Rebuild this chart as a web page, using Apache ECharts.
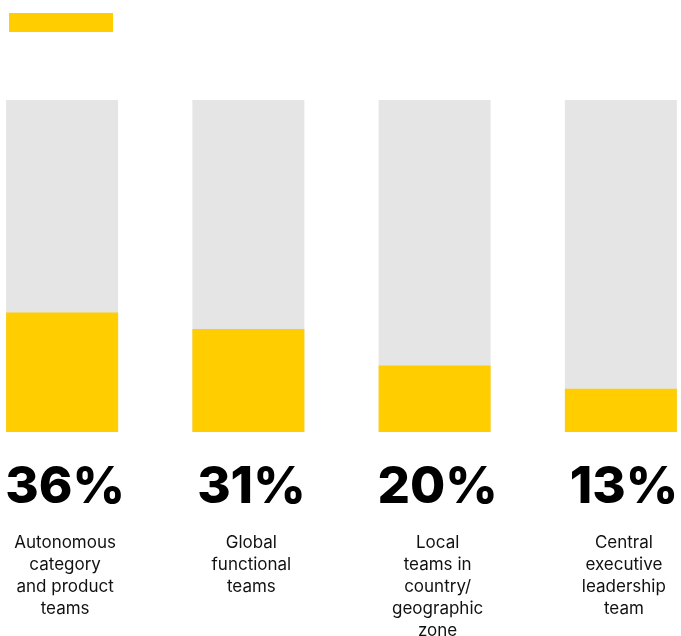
<!DOCTYPE html>
<html>
<head>
<meta charset="utf-8">
<style>
  html, body { margin: 0; padding: 0; background: #ffffff; }
  #chart { width: 681px; height: 636px; }
</style>
<script src="https://cdn.jsdelivr.net/npm/echarts@6/dist/echarts.min.js"></script>
</head>
<body>
<div id="chart"></div>
<script>
// Where decisions are made: share of respondents per team type
const categories = [
  'Autonomous\ncategory\nand product\nteams',
  'Global\nfunctional\nteams',
  'Local\nteams in\ncountry/\ngeographic\nzone',
  'Central\nexecutive\nleadership\nteam'
];
const shares = [36, 31, 20, 13];
const seriesName = 'Share of respondents';

const YELLOW = '#ffcd00';
const GREY = '#e5e5e6';

const chart = echarts.init(document.getElementById('chart'), null, { renderer: 'canvas' });

chart.setOption({
  animation: false,
  backgroundColor: '#ffffff',
  legend: {
    show: true,
    left: 9,
    top: 13,
    padding: 0,
    itemGap: 0,
    itemWidth: 104,
    itemHeight: 19,
    icon: 'rect',
    selectedMode: false,
    formatter: () => '',
    data: [seriesName]
  },
  grid: {
    left: -31,
    right: -33,
    top: 100,
    bottom: 204,
    containLabel: false,
    outerBoundsMode: 'none'
  },
  xAxis: {
    type: 'category',
    data: categories,
    axisLine: { show: false },
    axisTick: { show: false },
    axisLabel: {
      interval: 0,
      margin: 100,
      color: '#111111',
      fontFamily: 'Inter',
      fontSize: 17,
      lineHeight: 22,
      letterSpacing: -0.3,
      align: 'center',
      padding: [0, 0, 0, 6]
    }
  },
  yAxis: {
    type: 'value',
    min: 0,
    max: 100,
    show: false,
    splitLine: { show: false }
  },
  series: [{
    name: seriesName,
    type: 'bar',
    data: shares,
    barWidth: 112,
    itemStyle: { color: YELLOW },
    showBackground: true,
    backgroundStyle: { color: GREY },
    label: {
      show: true,
      position: 'bottom',
      distance: 30,
      offset: [3, 0],
      formatter: (p) => p.value + '%',
      color: '#000000',
      fontFamily: 'Inter',
      fontWeight: 800,
      fontSize: 51,
      letterSpacing: -2
    }
  }]
});
</script>
</body>
</html>
